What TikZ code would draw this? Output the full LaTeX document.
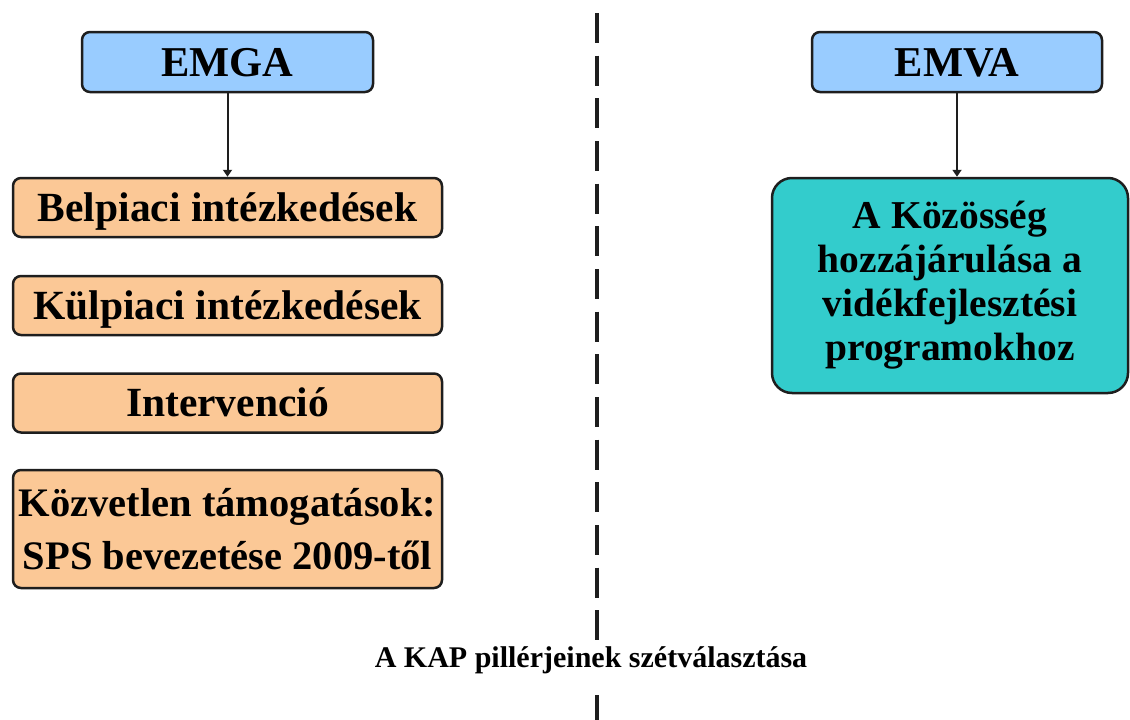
\documentclass[tikz,border=0pt]{standalone}
\usepackage{fontspec}
\setmainfont{Liberation Serif}
\usetikzlibrary{arrows.meta}

\definecolor{fundblue}{HTML}{99CCFF}
\definecolor{measurepeach}{HTML}{FBC896}
\definecolor{ruralteal}{HTML}{33CCCC}
\definecolor{edgegray}{HTML}{1E1E1E}

\tikzset{
  fundbox/.style={draw=edgegray, line width=2.5pt, fill=fundblue, rounded corners=8pt,
    minimum width=291pt, minimum height=60pt, inner sep=0pt,
    font=\bfseries\fontsize{42.5}{50}\selectfont, text height=28pt, text depth=0pt},
  measurebox/.style={draw=edgegray, line width=2.5pt, fill=measurepeach, rounded corners=8pt,
    minimum width=429pt, minimum height=59pt, inner sep=0pt,
    font=\bfseries\fontsize{41.5}{53}\selectfont},
  singleline/.style={text height=27pt, text depth=0pt},
  ruralbox/.style={draw=edgegray, line width=2.5pt, fill=ruralteal, rounded corners=20pt,
    minimum width=356pt, minimum height=215pt, inner sep=0pt, align=center,
    font=\bfseries\fontsize{39.5}{44}\selectfont},
  feed/.style={draw=edgegray, line width=2pt, -{Triangle[length=7pt,width=9pt]}},
  divider/.style={draw=edgegray, line width=4pt, dash pattern=on 30pt off 12.67pt},
  caption/.style={inner xsep=0pt, inner ysep=6pt, text height=20pt, text depth=22pt,
    font=\bfseries\fontsize{30}{36}\selectfont}
}

\begin{document}
\begin{tikzpicture}[x=1pt, y=-1pt]
  \useasboundingbox (0,0) rectangle (1130,720);

  % first pillar: guarantee fund and market measures
  \node[fundbox] (emga) at (227.5,62) {EMGA};
  \node[measurebox, singleline] (belpiac) at (227.5,207.5) {Belpiaci intézkedések};
  \node[measurebox, singleline] (kulpiac) at (227.5,305.5) {Külpiaci intézkedések};
  \node[measurebox, singleline] (interv) at (227.5,403) {Intervenció};
  \node[measurebox, minimum height=118pt, align=center,
        font=\bfseries\fontsize{40.5}{53}\selectfont] (kozvetlen) at (227.5,529)
    {Közvetlen támogatások:\\SPS bevezetése 2009-től};

  % second pillar: rural development fund
  \node[fundbox, minimum width=290pt] (emva) at (957,62) {EMVA};
  \node[ruralbox] (videk) at (950,285.5)
    {A Közösség\\hozzájárulása a\\vidékfejlesztési\\programokhoz};

  \draw[feed] (emga.south) -- (belpiac.north);
  \draw[feed] (emva.south) -- (emva.south |- videk.north);

  % separating line between the two pillars
  \node[caption] (sep) at (591,668) {A KAP pillérjeinek szétválasztása};
  \coordinate (divtop) at (597,13);
  \coordinate (divbot) at (597,720);
  \draw[divider] (divtop) -- (divtop |- sep.north);
  \draw[divider] (divbot |- sep.south) -- (divbot);
\end{tikzpicture}
\end{document}
